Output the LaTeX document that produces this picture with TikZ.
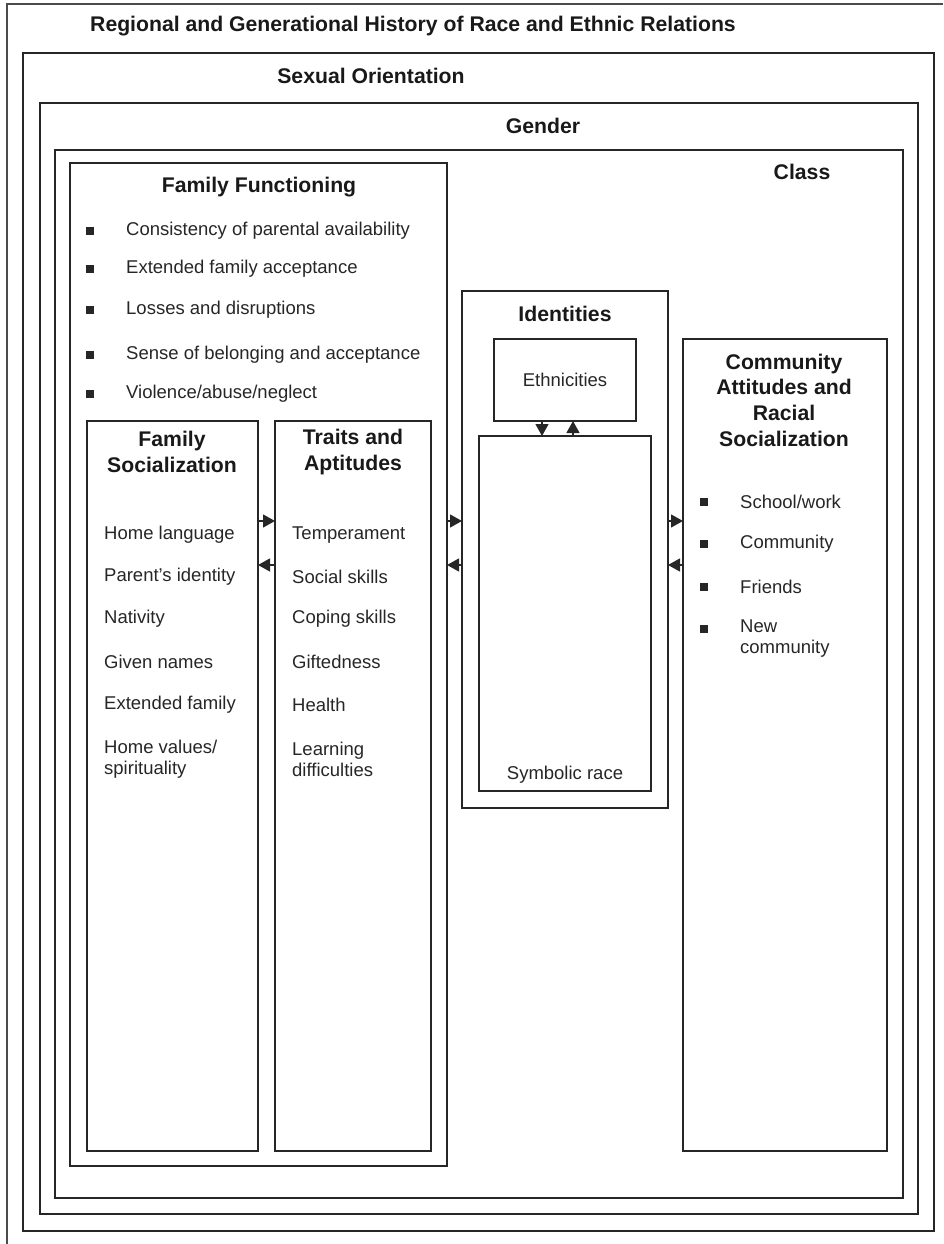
\documentclass[tikz,border=0pt]{standalone}
\usepackage{fontspec}
\setmainfont{Liberation Sans}
\usetikzlibrary{arrows.meta}
\begin{document}
\begin{tikzpicture}[x=1pt,y=-1pt,
  box/.style={draw=black!85, line width=1.3pt, inner sep=0pt, outer sep=0pt, anchor=north west},
  head/.style={font=\fontsize{21.2}{26}\selectfont\bfseries, inner sep=0pt, align=center, text=black!90},
  body/.style={font=\fontsize{18.5}{21}\selectfont, inner sep=0pt, anchor=west, align=left, text=black!85},
  bul/.style={fill=black!85, minimum size=7.5pt, inner sep=0pt},
  arr/.style={-{Triangle[length=12pt,width=13pt]}, line width=1.2pt, draw=black!85},
]
\useasboundingbox (0,0) rectangle (943,1244);
% outer open frame
\draw[draw=black!70, line width=1.3pt] (943,4) -- (7,4) -- (7,1244);
\node[head, anchor=west] (title) at (90,26) {Regional and Generational History of Race and Ethnic Relations};

% nested boxes
\node[box, minimum width=911pt, minimum height=1178pt] (so) at (23,53) {};
\node[head] (solab) at (371,76) {Sexual Orientation};
\node[box, minimum width=878pt, minimum height=1111pt] (gen) at (40,103) {};
\node[head] (genlab) at (543,126) {Gender};
\node[box, minimum width=848pt, minimum height=1048pt] (cls) at (55,150) {};
\node[head] (clslab) at (802,172) {Class};

% Family functioning
\node[box, minimum width=377pt, minimum height=1003pt] (ff) at (70,163) {};
\node[head] (fflab) at (259,187) {Family Functioning};
\foreach \y/\t [count=\i] in {231/{Consistency of parental availability},
                               269/{Extended family acceptance},
                               310/{Losses and disruptions},
                               355/{Sense of belonging and acceptance},
                               394/{Violence/abuse/neglect}}{
  \node[bul] (ffb\i) at (90,\y) {};
  \node[body] (fft\i) at (126,\y) {\t};
}

% Family socialization
\node[box, minimum width=171pt, minimum height=730pt] (fs) at (87,421) {};
\node[head] (fslab) at (172,452) {Family\\Socialization};
\foreach \y/\t [count=\i] in {535/{Home language}, 577/{Parent's identity}, 619/{Nativity},
                               662/{Given names}, 705/{Extended family}}{
  \node[body] (fst\i) at (104,\y) {\t};
}
\node[body] (fst6) at (104,759) {Home values/\\spirituality};

% Traits and aptitudes
\node[box, minimum width=156pt, minimum height=730pt] (tr) at (275,421) {};
\node[head] (trlab) at (353,452) {Traits and\\Aptitudes};
\foreach \y/\t [count=\i] in {535/{Temperament}, 577/{Social skills}, 619/{Coping skills},
                               662/{Giftedness}, 705/{Health}}{
  \node[body] (trt\i) at (292,\y) {\t};
}
\node[body] (trt6) at (292,759) {Learning\\difficulties};

% Identities
\node[box, minimum width=206pt, minimum height=517pt] (id) at (462,291) {};
\node[head] (idlab) at (565,314) {Identities};
\node[box, minimum width=142pt, minimum height=82pt] (eth) at (494,339) {};
\node[body, anchor=center] (ethlab) at (565,380) {Ethnicities};
\node[box, minimum width=172pt, minimum height=355pt] (sym) at (479,436) {};
\node[body, anchor=center] (symlab) at (565,775) {Symbolic race};

% Community
\node[box, minimum width=204pt, minimum height=812pt] (com) at (683,339) {};
\node[head, font=\fontsize{21.2}{25.7}\selectfont\bfseries] (comlab) at (784,400) {Community\\Attitudes and\\Racial\\Socialization};
\foreach \y/\t [count=\i] in {502/{School/work}, 544/{Community}, 587/{Friends}}{
  \node[bul] (cb\i) at (704,\y) {};
  \node[body] (ct\i) at (740,\y) {\t};
}
\node[bul] (cb4) at (704,629) {};
\node[body, anchor=north west] (ct4) at (740,620) {New\\community};

% connectors
\draw[arr] (fs.east |- 0,521) -- (tr.west |- 0,521);
\draw[arr] (tr.west |- 0,565) -- (fs.east |- 0,565);
\draw[arr] (ff.east |- 0,521) -- (id.west |- 0,521);
\draw[arr] (id.west |- 0,565) -- (ff.east |- 0,565);
\draw[arr] (id.east |- 0,521) -- (com.west |- 0,521);
\draw[arr] (com.west |- 0,565) -- (id.east |- 0,565);
\draw[arr] (eth.south -| 542,0) -- (sym.north -| 542,0);
\draw[arr] (sym.north -| 573,0) -- (eth.south -| 573,0);
\end{tikzpicture}
\end{document}
